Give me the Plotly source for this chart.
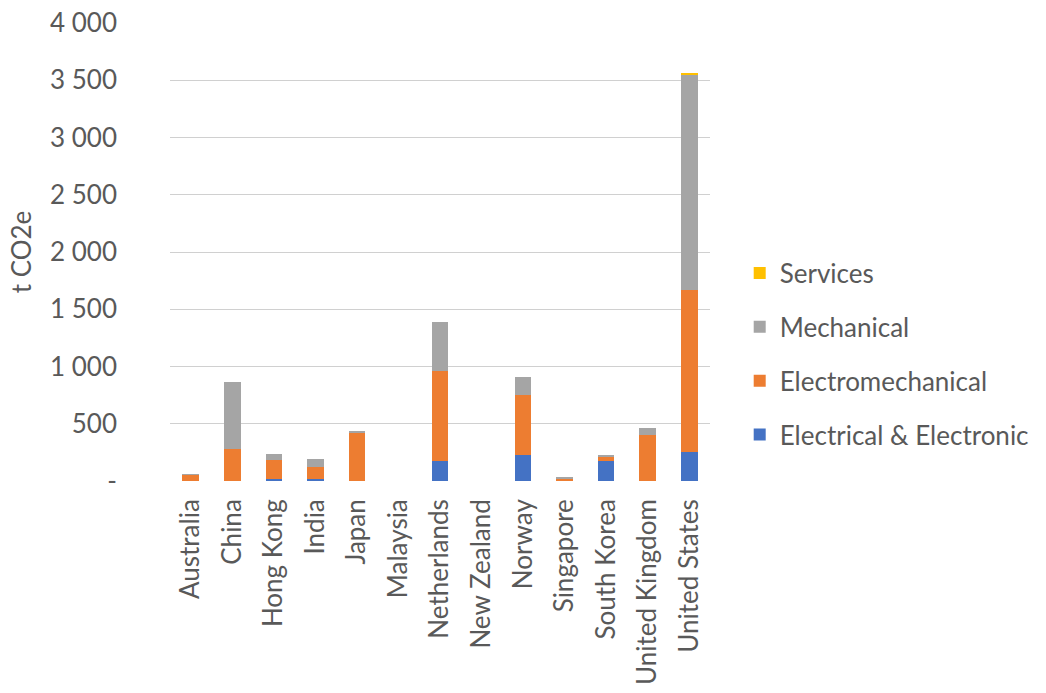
import plotly.graph_objects as go

countries = ["Australia", "China", "Hong Kong", "India", "Japan", "Malaysia",
             "Netherlands", "New Zealand", "Norway", "Singapore", "South Korea",
             "United Kingdom", "United States"]

electrical = [0, 0, 15, 15, 0, 0, 175, 0, 231, 0, 175, 0, 253]
electromechanical = [55, 283, 168, 109, 422, 0, 786, 0, 524, 24, 38, 399, 1412]
mechanical = [5, 582, 56, 71, 8, 0, 424, 0, 157, 14, 6, 68, 1888]
services = [0, 0, 0, 0, 0, 0, 0, 0, 0, 0, 0, 0, 12]

y_ticks = [0, 500, 1000, 1500, 2000, 2500, 3000, 3500, 4000]
y_tick_text = ["-", "500", "1 000", "1 500", "2 000", "2 500", "3 000", "3 500", "4 000"]

# (name, values, colour, legend rank) — legend lists the top of the stack first
series = [
    ("Electrical & Electronic", electrical, "#4472C4", 4),
    ("Electromechanical", electromechanical, "#ED7D31", 3),
    ("Mechanical", mechanical, "#A5A5A5", 2),
    ("Services", services, "#FFC000", 1),
]

font_family = "Lato, 'Open Sans', sans-serif"
text_color = "#595959"
fsize = 26

fig = go.Figure()
for name, vals, color, rank in series:
    fig.add_trace(go.Bar(
        x=countries, y=vals, name=name, legendgroup=name, legendrank=rank,
        marker=dict(color=color, line=dict(width=0)),
    ))

fig.update_layout(
    barmode="stack",
    bargap=0.6,
    width=1046, height=693,
    margin=dict(l=170, r=331, t=23, b=212),
    paper_bgcolor="white",
    plot_bgcolor="white",
    font=dict(family=font_family, size=fsize, color=text_color),
    legend=dict(
        x=1.055, y=0.277, xanchor="left", yanchor="middle",
        traceorder="grouped",
        tracegroupgap=17,
        font=dict(size=fsize, color=text_color),
    ),
    xaxis=dict(
        tickangle=-90,
        showgrid=False,
        showline=False,
        ticks="",
        automargin=False,
        ticklabelstandoff=12,
        tickfont=dict(size=fsize, color=text_color),
    ),
    yaxis=dict(
        range=[0, 4000],
        tickvals=y_ticks,
        ticktext=y_tick_text,
        showgrid=True,
        gridcolor="#D0D0D0",
        gridwidth=1,
        zeroline=False,
        showline=False,
        ticks="",
        automargin=False,
        ticklabelstandoff=52,
        tickfont=dict(size=fsize, color=text_color),
        title=dict(text="t CO2e", font=dict(size=fsize, color=text_color), standoff=10),
    ),
)

fig.write_html("out.html")
